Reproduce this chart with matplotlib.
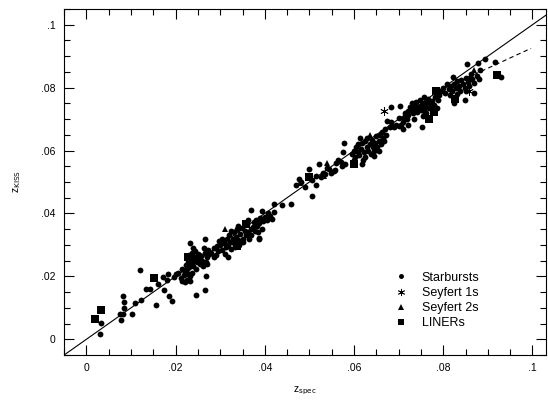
import matplotlib
matplotlib.use("Agg")
import matplotlib.pyplot as plt
from matplotlib.ticker import MultipleLocator, FuncFormatter

plt.rcParams["font.family"] = ["Liberation Sans", "DejaVu Sans"]

# Starbursts (z_spec, z_KISS)
sb_x = [0.0031, 0.0033, 0.0078, 0.0081, 0.0076, 0.0084, 0.0084, 0.0081, 0.0102, 0.0109,
        0.0123, 0.0121, 0.0134, 0.0142, 0.0156, 0.0160, 0.0171, 0.0175, 0.0185, 0.0191,
        0.0183, 0.0181, 0.0197, 0.0201, 0.0246, 0.0266, 0.0267, 0.0266, 0.0232,
        # 0.020 - 0.028
        0.0205, 0.0212, 0.0215, 0.0220, 0.0225, 0.0228, 0.0232, 0.0218, 0.0222, 0.0226,
        0.0230, 0.0223, 0.0228, 0.0232, 0.0225, 0.0230, 0.0235, 0.0238, 0.0240, 0.0242,
        0.0236, 0.0240, 0.0244, 0.0248, 0.0250, 0.0252, 0.0255, 0.0258, 0.0260, 0.0262,
        0.0265, 0.0268, 0.0270, 0.0272, 0.0275, 0.0263, 0.0245, 0.0237, 0.0233, 0.0215,
        0.0227, 0.0253, 0.0248, 0.0270,
        # 0.028 - 0.042
        0.0280, 0.0285, 0.0290, 0.0295, 0.0300, 0.0298, 0.0305, 0.0308, 0.0310, 0.0312,
        0.0315, 0.0318, 0.0320, 0.0322, 0.0325, 0.0328, 0.0330, 0.0332, 0.0335, 0.0338,
        0.0340, 0.0342, 0.0345, 0.0348, 0.0350, 0.0352, 0.0355, 0.0358, 0.0360, 0.0362,
        0.0365, 0.0368, 0.0370, 0.0373, 0.0376, 0.0378, 0.0380, 0.0382, 0.0385, 0.0388,
        0.0390, 0.0393, 0.0396, 0.0400, 0.0404, 0.0408, 0.0412, 0.0416, 0.0420, 0.0340,
        0.0325, 0.0305, 0.0292, 0.0287, 0.0317, 0.0362, 0.0386, 0.0333,
        0.0369, 0.0394, 0.0386, 0.0420, 0.0438, 0.0459,
        # 0.044 - 0.058
        0.0470, 0.0480, 0.0490, 0.0505, 0.0515, 0.0525, 0.0530, 0.0535, 0.0540, 0.0545,
        0.0548, 0.0555, 0.0560, 0.0570, 0.0572, 0.0477, 0.0500, 0.0521, 0.0506, 0.0514,
        0.0577, 0.0575, 0.0557, 0.0565, 0.0580,
        # 0.059 - 0.068
        0.0595, 0.0600, 0.0603, 0.0605, 0.0608, 0.0610, 0.0612, 0.0615, 0.0618, 0.0620,
        0.0622, 0.0625, 0.0628, 0.0630, 0.0632, 0.0635, 0.0638, 0.0640, 0.0642, 0.0645,
        0.0648, 0.0650, 0.0652, 0.0655, 0.0658, 0.0660, 0.0662, 0.0665, 0.0668, 0.0670,
        0.0613, 0.0600, 0.0625, 0.0645, 0.0672, 0.0655, 0.0618,
        # 0.067 - 0.080
        0.0675, 0.0680, 0.0685, 0.0690, 0.0695, 0.0700, 0.0705, 0.0710, 0.0712, 0.0715,
        0.0718, 0.0720, 0.0722, 0.0725, 0.0728, 0.0730, 0.0732, 0.0735, 0.0738, 0.0740,
        0.0742, 0.0745, 0.0748, 0.0750, 0.0752, 0.0755, 0.0758, 0.0760, 0.0762, 0.0765,
        0.0768, 0.0770, 0.0772, 0.0775, 0.0778, 0.0780, 0.0782, 0.0785, 0.0788, 0.0790,
        0.0735, 0.0700, 0.0710, 0.0720, 0.0755, 0.0683, 0.0762,
        0.0682, 0.0704, 0.0752, 0.0758,
        # 0.080 - 0.093
        0.0795, 0.0800, 0.0805, 0.0808, 0.0812, 0.0815, 0.0818, 0.0820, 0.0825, 0.0828,
        0.0830, 0.0832, 0.0835, 0.0838, 0.0840, 0.0845, 0.0848, 0.0850, 0.0852, 0.0855,
        0.0858, 0.0862, 0.0865, 0.0870, 0.0875, 0.0880,
        0.0853, 0.0877, 0.0893, 0.0916, 0.0929, 0.0824, 0.0848, 0.0869, 0.0822, 0.0883,
        0.0860]
sb_y = [0.0018, 0.0053, 0.0062, 0.0081, 0.0081, 0.0100, 0.0119, 0.0139, 0.0081, 0.0116,
        0.0124, 0.0219, 0.0161, 0.0161, 0.0108, 0.0175, 0.0198, 0.0156, 0.0137, 0.0122,
        0.0206, 0.0187, 0.0198, 0.0208, 0.0140, 0.0156, 0.0202, 0.0319, 0.0306,
        0.0210, 0.0195, 0.0185, 0.0183, 0.0187, 0.0190, 0.0185, 0.0205, 0.0215, 0.0222,
        0.0230, 0.0235, 0.0245, 0.0255, 0.0262, 0.0268, 0.0240, 0.0250, 0.0232, 0.0262,
        0.0275, 0.0290, 0.0280, 0.0245, 0.0270, 0.0255, 0.0238, 0.0265, 0.0250, 0.0232,
        0.0275, 0.0245, 0.0262, 0.0285, 0.0270, 0.0290, 0.0222, 0.0212, 0.0200, 0.0225,
        0.0208, 0.0268, 0.0258, 0.0240,
        0.0275, 0.0290, 0.0268, 0.0280, 0.0300, 0.0312, 0.0285, 0.0305, 0.0270, 0.0292,
        0.0320, 0.0300, 0.0330, 0.0310, 0.0288, 0.0320, 0.0340, 0.0305, 0.0325, 0.0350,
        0.0315, 0.0300, 0.0335, 0.0355, 0.0320, 0.0310, 0.0345, 0.0330, 0.0365, 0.0340,
        0.0318, 0.0350, 0.0330, 0.0358, 0.0372, 0.0345, 0.0380, 0.0360, 0.0340, 0.0370,
        0.0385, 0.0350, 0.0375, 0.0390, 0.0380, 0.0400, 0.0392, 0.0383, 0.0405, 0.0360,
        0.0345, 0.0318, 0.0295, 0.0262, 0.0262, 0.0380, 0.0322, 0.0293,
        0.0410, 0.0407, 0.0320, 0.0429, 0.0427, 0.0429,
        0.0490, 0.0500, 0.0485, 0.0505, 0.0520, 0.0515, 0.0530, 0.0525, 0.0545, 0.0540,
        0.0528, 0.0535, 0.0560, 0.0565, 0.0550, 0.0510, 0.0541, 0.0558, 0.0456, 0.0492,
        0.0623, 0.0595, 0.0537, 0.0570, 0.0556,
        0.0590, 0.0600, 0.0580, 0.0612, 0.0595, 0.0620, 0.0585, 0.0605, 0.0625, 0.0570,
        0.0595, 0.0630, 0.0610, 0.0640, 0.0600, 0.0620, 0.0590, 0.0635, 0.0612, 0.0598,
        0.0625, 0.0645, 0.0610, 0.0630, 0.0650, 0.0620, 0.0660, 0.0640, 0.0630, 0.0670,
        0.0640, 0.0570, 0.0578, 0.0582, 0.0650, 0.0600, 0.0558,
        0.0695, 0.0675, 0.0678, 0.0676, 0.0680, 0.0677, 0.0680, 0.0690, 0.0705, 0.0720,
        0.0700, 0.0725, 0.0712, 0.0740, 0.0730, 0.0750, 0.0718, 0.0745, 0.0755, 0.0732,
        0.0722, 0.0740, 0.0760, 0.0730, 0.0745, 0.0738, 0.0725, 0.0752, 0.0740, 0.0765,
        0.0735, 0.0750, 0.0742, 0.0758, 0.0730, 0.0745, 0.0770, 0.0735, 0.0760, 0.0778,
        0.0700, 0.0705, 0.0670, 0.0680, 0.0710, 0.0692, 0.0720,
        0.0740, 0.0742, 0.0674, 0.0771,
        0.0790, 0.0800, 0.0782, 0.0810, 0.0795, 0.0775, 0.0805, 0.0788, 0.0812, 0.0798,
        0.0780, 0.0820, 0.0805, 0.0790, 0.0825, 0.0812, 0.0800, 0.0790, 0.0830, 0.0818,
        0.0805, 0.0842, 0.0828, 0.0815, 0.0838, 0.0826,
        0.0875, 0.0879, 0.0891, 0.0883, 0.0833, 0.0750, 0.0761, 0.0782, 0.0833, 0.0857,
        0.0831]

# Seyfert 1s
sy1_x = [0.0668, 0.0857]
sy1_y = [0.0727, 0.0788]

# Seyfert 2s
sy2_x = [0.0478, 0.0539, 0.0868, 0.0635, 0.0310, 0.0532]
sy2_y = [0.0496, 0.0560, 0.0855, 0.0649, 0.0351, 0.0519]

# LINERs
lin_x = [0.0020, 0.0033, 0.0152, 0.0228, 0.0338, 0.0357, 0.0500, 0.0600, 0.0768,
         0.0783, 0.0779, 0.0826, 0.0920]
lin_y = [0.0063, 0.0092, 0.0195, 0.0261, 0.0295, 0.0365, 0.0515, 0.0556, 0.0700,
         0.0790, 0.0721, 0.0763, 0.0840]

# reference lines
one_x = [-0.005, 0.105]
fit_x = [0.079, 0.0997]
fit_y = [0.079, 0.0925]


def nozero(v, pos):
    if abs(v) < 1e-9:
        return "0"
    s = f"{v:.2f}".rstrip("0")
    return s.replace("0.", ".", 1)


fig = plt.figure(figsize=(5.48, 4.0), dpi=100)
ax = fig.add_axes([0.117, 0.1125, 0.879, 0.865])

ax.plot(one_x, one_x, color="black", lw=0.8, zorder=2)
ax.plot(fit_x, fit_y, color="black", lw=0.8, ls=(0, (4, 3)), zorder=2)

ax.plot(sb_x, sb_y, "o", color="black", ms=4.2, mew=0, ls="none", zorder=3,
        label="Starbursts")
ax.plot(sy1_x, sy1_y, marker=(6, 2, 0), color="black", ms=6, mew=0.6, ls="none",
        zorder=3, label="Seyfert 1s")
ax.plot(sy2_x, sy2_y, "^", color="black", ms=4.8, mew=0, ls="none", zorder=3,
        label="Seyfert 2s")
ax.plot(lin_x, lin_y, "s", color="black", ms=5.2, mew=0, ls="none", zorder=3,
        label="LINERs")

ax.set_xlim(-0.005, 0.103)
ax.set_ylim(-0.005, 0.105)
for axis in (ax.xaxis, ax.yaxis):
    axis.set_major_locator(MultipleLocator(0.02))
    axis.set_minor_locator(MultipleLocator(0.005))
    axis.set_major_formatter(FuncFormatter(nozero))
ax.tick_params(which="both", direction="in", top=True, right=True,
               labelsize=7.5, pad=6, width=0.8)
ax.tick_params(which="major", length=7)
ax.tick_params(which="minor", length=4)
for sp in ax.spines.values():
    sp.set_linewidth(0.8)

ax.set_xlabel(r"z$_{\rm spec}$", fontsize=7.5, labelpad=8)
ax.set_ylabel(r"z$_{\rm KISS}$", fontsize=7.5, labelpad=13)

leg = ax.legend(loc="lower left", bbox_to_anchor=(0.675, 0.06), frameon=False,
                fontsize=9, handlelength=1.0, handletextpad=1.2,
                labelspacing=0.25, borderaxespad=0, markerscale=0.85)

fig.savefig("out.png", dpi=100)
